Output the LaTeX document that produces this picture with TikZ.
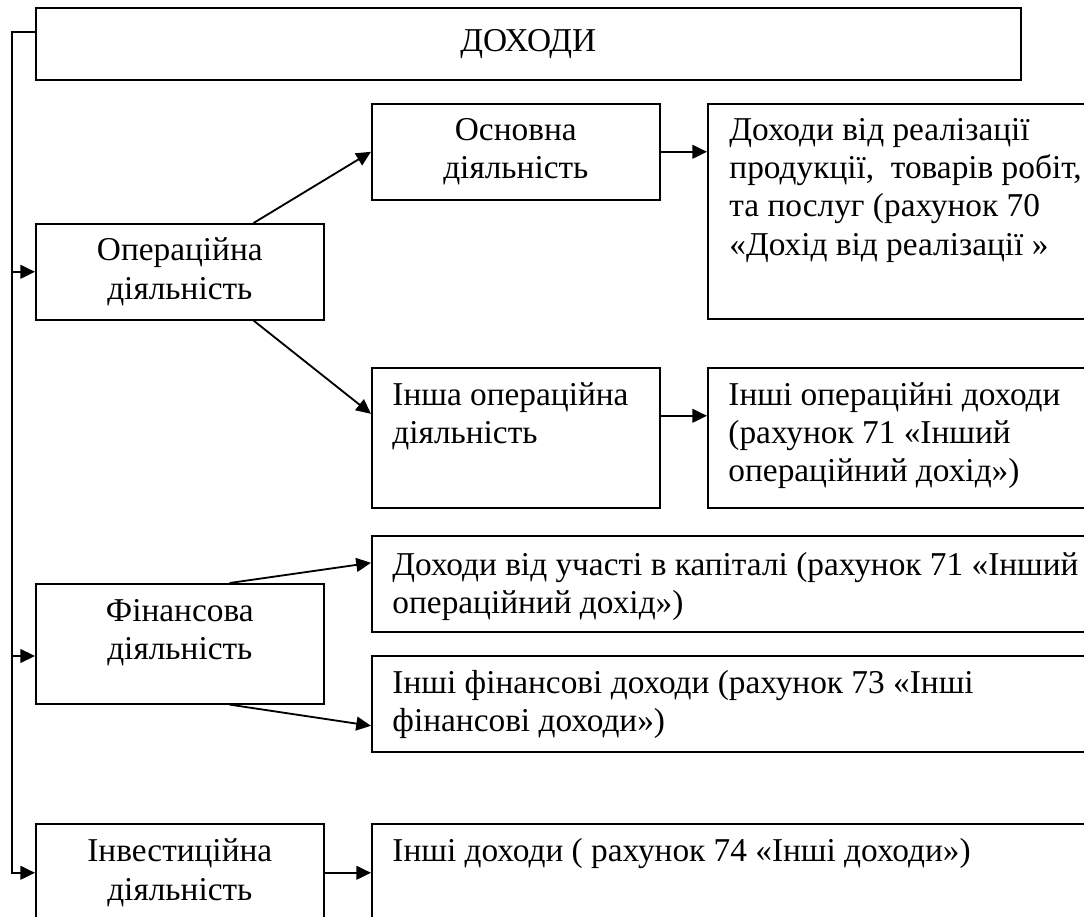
\documentclass[tikz,border=0pt]{standalone}
\usepackage{fontspec}
\setmainfont{Liberation Serif}
\usetikzlibrary{arrows.meta}
\newcommand{\px}{0.435pt}

\begin{document}
\begin{tikzpicture}[x=\px,y=-\px,>={Triangle[length=6.4pt,width=6pt]},
	box/.style={draw,line width=0.7pt,anchor=north west,inner sep=0pt,align=center,font=\fontsize{14.5pt}{16.6pt}\selectfont},
	txt/.style={anchor=north west,align=left,inner sep=0pt,font=\fontsize{14.5pt}{16.6pt}\selectfont},
	ctxt/.style={anchor=north,align=center,inner sep=0pt,font=\fontsize{14.5pt}{16.6pt}\selectfont},
	arr/.style={line width=0.8pt,->}]
			\useasboundingbox (0,0) rectangle (1084,917);
			\clip (0,0) rectangle (1084,917);

			\node[box,minimum width=985*\px,minimum height=72*\px] (dohody) at (35,7) {ДОХОДИ};
			\node[box,minimum width=288*\px,minimum height=96*\px] (osn) at (371,103) {Основна\\діяльність};
			\node[box,minimum width=400*\px,minimum height=215*\px] (real) at (707,103) {};
			\node[box,minimum width=288*\px,minimum height=96*\px] (oper) at (35,223) {Операційна\\діяльність};
			\node[box,minimum width=288*\px,minimum height=140*\px] (insha) at (371,367) {};
			\node[box,minimum width=400*\px,minimum height=140*\px] (inshiop) at (707,367) {};
			\node[box,minimum width=740*\px,minimum height=96*\px] (uch) at (371,535) {};
			\node[box,minimum width=288*\px,minimum height=120*\px] (fin) at (35,583) {};
			\node[box,minimum width=740*\px,minimum height=96*\px] (finoth) at (371,655) {};
			\node[box,minimum width=288*\px,minimum height=98*\px] (inv) at (35,823) {Інвестиційна\\діяльність};
			\node[box,minimum width=740*\px,minimum height=98*\px] (inshid) at (371,823) {};

			\node[txt] at ([shift={(22,15)}]real.north west) {Доходи від реалізації\\продукції,\ \ товарів робіт,\\та послуг (рахунок 70\\«Дохід від реалізації »};
			\node[txt] at ([shift={(21,15)}]insha.north west) {Інша операційна\\діяльність};
			\node[txt] at ([shift={(21,15)}]inshiop.north west) {Інші операційні доходи\\(рахунок 71 «Інший\\операційний дохід»)};
			\node[ctxt] at ([shift={(0,16)}]fin.north) {Фінансова\\діяльність};
			\node[txt] at ([shift={(21,17)}]uch.north west) {Доходи від участі в капіталі (рахунок 71 «Інший\\операційний дохід»)};
			\node[txt] at ([shift={(21,15)}]finoth.north west) {Інші фінансові доходи (рахунок 73 «Інші\\фінансові доходи»)};
			\node[txt] at ([shift={(21,15)}]inshid.north west) {Інші доходи ( рахунок 74 «Інші доходи»)};

			\coordinate (bus) at (12,32);
			\coordinate (finin) at (12,656);
			\draw[arr] (dohody.west |- bus) -- (bus) |- (inv.west);
			\draw[arr] (bus |- oper.west) -- (oper.west);
			\draw[arr] (finin) -- (finin -| fin.west);
			\draw[arr] ([shift={(-71,0)}]oper.north east) -- (osn.west);
			\draw[arr] ([shift={(-71,0)}]oper.south east) -- ([shift={(0,-24)}]insha.west);
			\draw[arr] (osn.east) -- (osn.east -| real.west);
			\draw[arr] ([shift={(0,-22)}]insha.east) -- ([shift={(0,-22)}]inshiop.west);
			\draw[arr] ([shift={(-95,0)}]fin.north east) -- ([shift={(0,-21)}]uch.west);
			\draw[arr] ([shift={(-95,0)}]fin.south east) -- ([shift={(0,22)}]finoth.west);
			\draw[arr] (inv.east) -- (inshid.west);
\end{tikzpicture}
\end{document}
